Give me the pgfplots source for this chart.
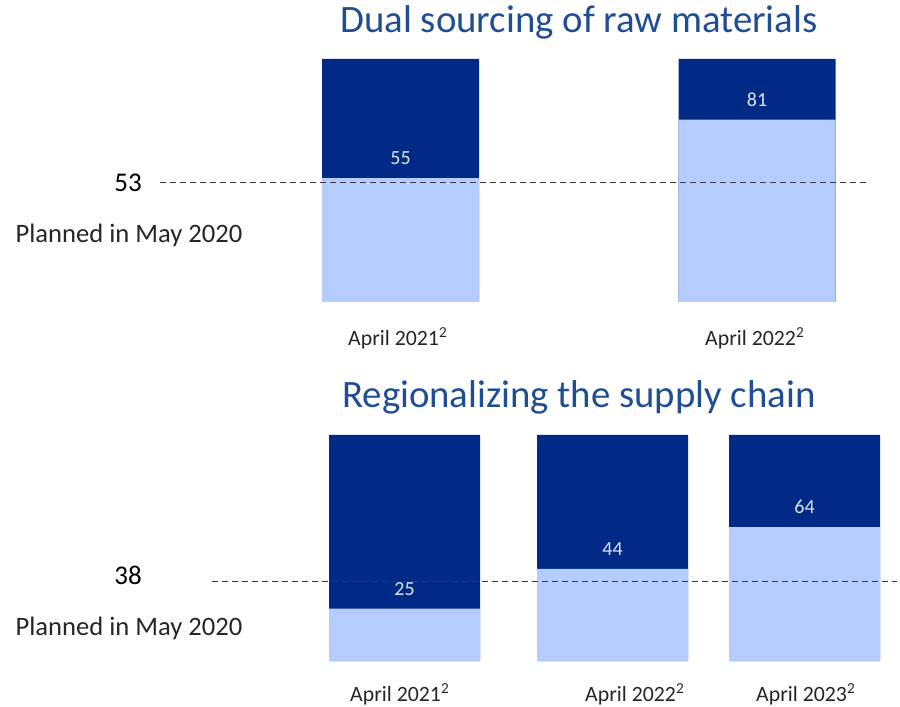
\documentclass[border=0pt]{standalone}
\usepackage{fontspec}
\setmainfont{Carlito}
\usepackage{pgfplots}
\pgfplotsset{compat=1.18}
\definecolor{darkbar}{HTML}{002A86}
\definecolor{lightbar}{HTML}{B4CCFF}
\definecolor{titleblue}{HTML}{1F4E96}
\definecolor{vallabel}{HTML}{DCE3F3}
\definecolor{dashgray}{HTML}{3A3A3A}
\definecolor{txt}{HTML}{262626}
\pgfplotsset{
  panel/.style={
    anchor=south west, scale only axis, width=450pt,
    xmin=0, xmax=900, ymin=0, ymax=108, clip=false,
    axis line style={draw=none}, ytick=\empty, major tick length=0pt,
    /pgf/number format/assume math mode=true,
    xticklabel style={anchor=center, text=txt, font=\fontsize{10.9}{12}\selectfont},
  },
  darkbars/.style={ybar, bar width=#1, bar shift=0pt, fill=darkbar, draw=none},
  lightbars/.style={ybar, bar width=#1, bar shift=0pt, fill=lightbar, draw=none,
    nodes near coords,
    nodes near coords style={anchor=center, yshift=10pt, text=vallabel, font=\fontsize{10}{12}\selectfont}},
  planline/.style={dashgray, line width=0.75pt, dash pattern=on 3pt off 2pt},
}
\begin{document}
\begin{tikzpicture}
\useasboundingbox (0pt,0pt) rectangle (450pt,353.5pt);
% Top panel
\begin{axis}[panel, at={(0pt,202.5pt)}, height=121.5pt,
  xtick={398,755},
  xticklabels={April 2021\textsuperscript{2}, April 2022\textsuperscript{2}},
  xticklabel style={yshift=-18pt}]
\addplot[darkbars=157] coordinates {(400.5,108) (757,108)};
\addplot[lightbars=157] coordinates {(400.5,55) (757,81)};
\addplot[planline] coordinates {(160,53) (870,53)};
\node[font=\fontsize{19.4}{22}\selectfont, text=titleblue] at (axis cs:579,108) [yshift=18.5pt] {Dual sourcing of raw materials};
\node[font=\fontsize{13.5}{15}\selectfont, text=black] at (axis cs:128,53) {53};
\node[font=\fontsize{13.3}{15}\selectfont, text=txt] at (axis cs:129,29.8) {Planned in May 2020};
\end{axis}
% Bottom panel
\begin{axis}[panel, at={(0pt,23pt)}, height=113pt,
  xtick={400,635,806},
  xticklabels={April 2021\textsuperscript{2}, April 2022\textsuperscript{2}, April 2023\textsuperscript{2}},
  xticklabel style={yshift=-16.5pt}]
\addplot[darkbars=151] coordinates {(404.5,108) (612.5,108) (804.5,108)};
\addplot[lightbars=151] coordinates {(404.5,25) (612.5,44) (804.5,64)};
\addplot[planline] coordinates {(212,38) (897,38)};
\node[font=\fontsize{19.4}{22}\selectfont, text=titleblue] at (axis cs:579,108) [yshift=19pt] {Regionalizing the supply chain};
\node[font=\fontsize{13.5}{15}\selectfont, text=black] at (axis cs:128,41.1) {38};
\node[font=\fontsize{13.3}{15}\selectfont, text=txt] at (axis cs:129,15.8) {Planned in May 2020};
\end{axis}
\end{tikzpicture}
\end{document}
